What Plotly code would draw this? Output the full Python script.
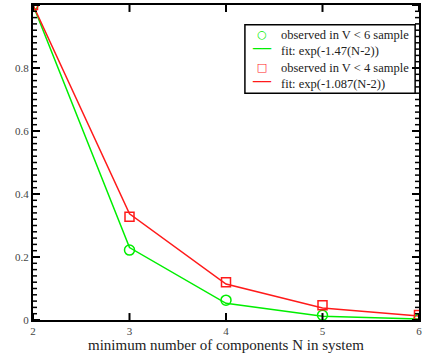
import plotly.graph_objects as go

N = [2, 3, 4, 5, 6]
obs_v6 = [1.0, 0.222, 0.063, 0.015, 0.003]
fit_v6 = [1.0, 0.230, 0.053, 0.012, 0.003]
obs_v4 = [1.0, 0.328, 0.120, 0.047, 0.016]
fit_v4 = [1.0, 0.337, 0.114, 0.038, 0.013]

names = ["observed in V &lt; 6 sample", "fit: exp(-1.47(N-2))",
         "observed in V &lt; 4 sample", "fit: exp(-1.087(N-2))"]
xticks = [2, 3, 4, 5, 6]
yticks = [0, 0.2, 0.4, 0.6, 0.8, 1.0]
ylabels = ["0", "0.2", "0.4", "0.6", "0.8", ""]
yminor = [round(i * 0.02, 2) for i in range(51)]
xtitle = "minimum number of components N in system"

GREEN = "#00ee00"
RED = "#ff1a1a"
font = "Liberation Serif"

W, H = 426, 353
ML, MR, MT, MB = 33, 7, 3, 33
PW, PH = W - ML - MR, H - MT - MB

fig = go.Figure()
fig.add_trace(go.Scatter(x=N, y=fit_v6, mode="lines", name=names[1],
                         line=dict(color=GREEN, width=1.5), showlegend=False))
fig.add_trace(go.Scatter(x=N, y=fit_v4, mode="lines", name=names[3],
                         line=dict(color=RED, width=1.5), showlegend=False))
fig.add_trace(go.Scatter(x=N, y=obs_v6, mode="markers", name=names[0],
                         marker=dict(symbol="circle-open", size=10, color=GREEN, line=dict(width=1.5)),
                         showlegend=False))
fig.add_trace(go.Scatter(x=N, y=obs_v4, mode="markers", name=names[2],
                         marker=dict(symbol="square-open", size=9, color=RED, line=dict(width=1.5)),
                         showlegend=False))

# compact legend drawn as text (plotly's own legend rows are taller than the reference)
sym = ('<span style="color:%s;font-size:11px"><b>○</b></span><br>'
       '<span style="color:%s;font-size:15px">──</span><br>'
       '<span style="color:%s;font-size:11px"><b>□</b></span><br>'
       '<span style="color:%s;font-size:15px">──</span>') % (GREEN, GREEN, RED, RED)
txt = "<br>".join(names)

fig.add_shape(type="rect", xref="paper", yref="paper", x0=0.549, x1=0.990,
              y0=0.720, y1=0.937, line=dict(color="black", width=1.5),
              fillcolor="white", layer="above")
fig.add_annotation(xref="paper", yref="paper", x=0.592, y=0.826, xanchor="center",
                   yanchor="middle", text=sym, showarrow=False, align="center",
                   font=dict(family="DejaVu Sans", size=12.5, color="black"))
fig.add_annotation(xref="paper", yref="paper", x=0.637, y=0.826, xanchor="left",
                   yanchor="middle", text=txt, showarrow=False, align="left",
                   font=dict(family=font, size=12.5, color="#222"))
# x-axis title
fig.add_annotation(xref="paper", yref="paper", x=0.5, y=0, xanchor="center",
                   yanchor="middle", yshift=-25, text=xtitle, showarrow=False,
                   font=dict(family=font, size=15, color="#222"))

# inward tick marks on all four sides, placed at the axis tick values
def tick(**kw):
    fig.add_shape(type="line", layer="above", **kw)

maj_y = 7 / PW
min_y = 4 / PW
maj_x = 7 / PH
for v in yticks:
    tick(xref="paper", yref="y", x0=0, x1=maj_y, y0=v, y1=v, line=dict(color="black", width=2))
    tick(xref="paper", yref="y", x0=1 - maj_y, x1=1, y0=v, y1=v, line=dict(color="black", width=2))
for v in yminor:
    if v in yticks:
        continue
    tick(xref="paper", yref="y", x0=0, x1=min_y, y0=v, y1=v, line=dict(color="black", width=1.5))
    tick(xref="paper", yref="y", x0=1 - min_y, x1=1, y0=v, y1=v, line=dict(color="black", width=1.5))
for v in xticks:
    tick(xref="x", yref="paper", x0=v, x1=v, y0=0, y1=maj_x, line=dict(color="black", width=2))
    tick(xref="x", yref="paper", x0=v, x1=v, y0=1 - maj_x, y1=1, line=dict(color="black", width=2))

axis_common = dict(ticks="", showline=True, linecolor="black", linewidth=2,
                   mirror=True, showgrid=False, zeroline=False,
                   tickfont=dict(family=font, size=11, color="#444"))

fig.update_layout(
    width=W, height=H,
    margin=dict(l=ML, r=MR, t=MT, b=MB),
    paper_bgcolor="white", plot_bgcolor="white",
    font=dict(family=font, size=12, color="#333"),
    showlegend=False,
    xaxis=dict(range=[2, 6], tickvals=xticks, **axis_common),
    yaxis=dict(range=[0, 1], tickvals=yticks, ticktext=ylabels, **axis_common),
)

fig.write_html("out.html")
